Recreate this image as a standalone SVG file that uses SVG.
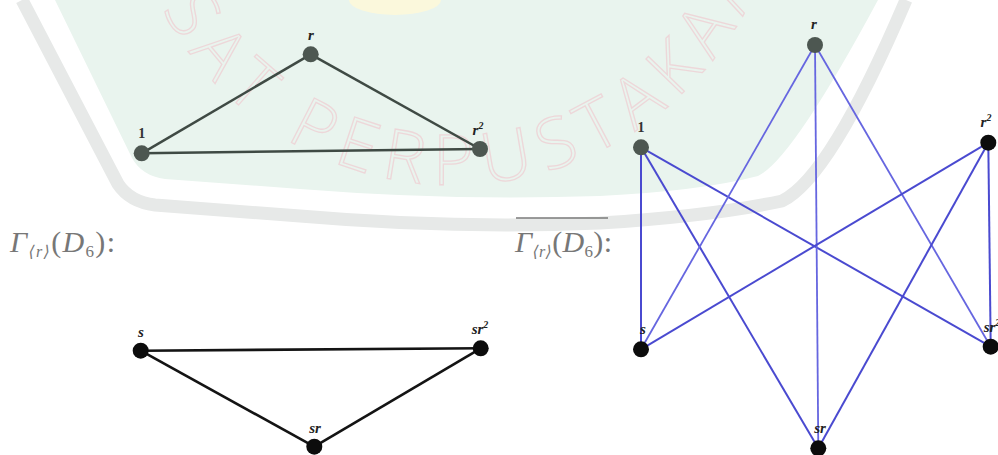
<svg xmlns="http://www.w3.org/2000/svg" width="998" height="455" viewBox="0 0 998 455">
<style>
.wm-band{fill:none;stroke:#e7e9e8;stroke-width:13;stroke-linejoin:round}
.wm-text{font-family:"Open Sans","DejaVu Sans",sans-serif;font-size:70px;font-weight:300;fill:none;stroke:#edd7d9;stroke-width:1.3}
.e-grey{stroke:#3f4a44;stroke-width:2.5;fill:none}
.e-black{stroke:#141414;stroke-width:2.6;fill:none}
.e-blue{stroke:#4a4ad0;stroke-width:2;fill:none}
.e-blue2{stroke:#6666e0;stroke-width:1.8;fill:none}
.n-grey{fill:#4d5751}
.n-black{fill:#0c0c0c}
.lbl{font-family:"Liberation Serif","DejaVu Serif",serif;font-size:15px;font-style:italic;font-weight:bold;fill:#222;text-anchor:middle}
.num{font-family:"Liberation Serif","DejaVu Serif",serif;font-size:14px;font-weight:bold;fill:#333;text-anchor:middle}
.title{font-family:"Liberation Serif","DejaVu Serif",serif;font-size:30px;font-style:italic;fill:#777777}
</style>
<defs>
<path id="wmArc" d="M 127.2,-99.1 A 330 330 0 0 0 782.7,-116.2"/>
</defs>
<rect width="998" height="455" fill="#ffffff"/>
<g id="watermark">
<path d="M 55,0 L 132,158 Q 142,176 165,179 L 300,189 Q 450,201 600,196 Q 700,191 758,176 Q 792,160 878,0 Z" fill="#e9f4ee"/>
<path class="wm-band" d="M 22,0 L 118,184 Q 130,202 155,205 L 300,216 Q 450,229 600,223 Q 712,216 782,201 Q 830,178 906,0"/>
<ellipse cx="395" cy="0" rx="46" ry="15" fill="#fbf8dc"/>
<text class="wm-text"><textPath href="#wmArc" textLength="926" lengthAdjust="spacing">PUSAT PERPUSTAKAAN</textPath></text>
</g>
<g id="connectors">
<line class="e-grey" x1="141.7" y1="153.3" x2="310.7" y2="54.3"/>
<line class="e-grey" x1="310.7" y1="54.3" x2="480" y2="149"/>
<line class="e-grey" x1="141.7" y1="153.3" x2="480" y2="149"/>
<line class="e-black" x1="140.7" y1="350.7" x2="480.7" y2="348.3" stroke-width="3"/>
<line class="e-black" x1="140.7" y1="350.7" x2="314.3" y2="446.7"/>
<line class="e-black" x1="314.3" y1="446.7" x2="480.7" y2="348.3"/>
<line class="e-blue" x1="641" y1="147.3" x2="641" y2="349.3"/>
<line class="e-blue" x1="641" y1="147.3" x2="818.3" y2="448.3"/>
<line class="e-blue" x1="641" y1="147.3" x2="990.7" y2="346.7"/>
<line class="e-blue2" x1="815" y1="45" x2="641" y2="349.3"/>
<line class="e-blue2" x1="815" y1="45" x2="818.3" y2="448.3"/>
<line class="e-blue2" x1="815" y1="45" x2="990.7" y2="346.7"/>
<line class="e-blue" x1="988.3" y1="142.7" x2="641" y2="349.3"/>
<line class="e-blue" x1="988.3" y1="142.7" x2="818.3" y2="448.3"/>
<line class="e-blue" x1="988.3" y1="142.7" x2="990.7" y2="346.7"/>
</g>
<g id="n-1"><circle class="n-grey" cx="141.7" cy="153.3" r="8"/><text class="num" x="141.7" y="138">1</text></g>
<g id="n-r"><circle class="n-grey" cx="310.7" cy="54.3" r="8"/><text class="lbl" x="311" y="40" font-weight="normal">r</text></g>
<g id="n-r2"><circle class="n-grey" cx="480" cy="149" r="8"/><text class="lbl" x="478" y="135" font-weight="normal">r<tspan font-size="10" dy="-6">2</tspan></text></g>
<g id="n-s"><circle class="n-black" cx="140.7" cy="350.7" r="8"/><text class="lbl" x="141" y="337">s</text></g>
<g id="n-sr2"><circle class="n-black" cx="480.7" cy="348.3" r="8"/><text class="lbl" x="480" y="334">sr<tspan font-size="10" dy="-6">2</tspan></text></g>
<g id="n-sr"><circle class="n-black" cx="314.3" cy="446.7" r="8"/><text class="lbl" x="315" y="433">sr</text></g>
<g id="label-left"><text class="title" x="10" y="252" textLength="105" lengthAdjust="spacing">Γ<tspan font-size="16" dy="5">⟨r⟩</tspan><tspan dy="-5" font-style="normal">(</tspan>D<tspan font-size="17" dy="5" font-style="normal">6</tspan><tspan dy="-5" font-style="normal">):</tspan></text></g>
<g id="label-right"><line x1="516" y1="218" x2="608" y2="218" stroke="#7a7a7a" stroke-width="1.3"/><text class="title" x="515" y="252" textLength="97" lengthAdjust="spacing">Γ<tspan font-size="16" dy="5">⟨r⟩</tspan><tspan dy="-5" font-style="normal">(</tspan>D<tspan font-size="17" dy="5" font-style="normal">6</tspan><tspan dy="-5" font-style="normal">):</tspan></text></g>
<g id="c-1"><circle class="n-grey" cx="641" cy="147.3" r="8"/><text class="num" x="641" y="132">1</text></g>
<g id="c-r"><circle class="n-grey" cx="815" cy="45" r="8"/><text class="lbl" x="814" y="29" font-weight="normal">r</text></g>
<g id="c-r2"><circle class="n-black" cx="988.3" cy="142.7" r="8"/><text class="lbl" x="986" y="127">r<tspan font-size="10" dy="-6">2</tspan></text></g>
<g id="c-s"><circle class="n-black" cx="641" cy="349.3" r="8"/><text class="lbl" x="643" y="334">s</text></g>
<g id="c-sr"><circle class="n-black" cx="818.3" cy="448.3" r="8"/><text class="lbl" x="820" y="433">sr</text></g>
<g id="c-sr2"><circle class="n-black" cx="990.7" cy="346.7" r="8"/><text class="lbl" x="992" y="332">sr<tspan font-size="10" dy="-6">2</tspan></text></g>
</svg>
